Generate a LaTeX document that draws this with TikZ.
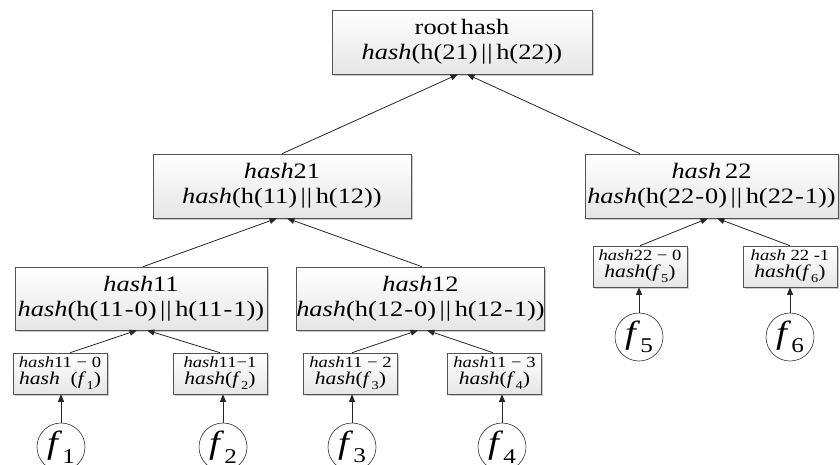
\documentclass[tikz,border=0pt]{standalone}
\usepackage{fontspec}
\setmainfont{Liberation Serif}[FakeStretch=1.2,
  UprightFont={Liberation Serif},
  ItalicFont={Liberation Serif Italic},
  BoldFont={Liberation Serif Bold}]
\usetikzlibrary{arrows.meta,shadows}
\newcommand{\hs}{\textit{hash}}
\newcommand{\dbar}{\,|\kern0.8pt|\,}
\newcommand{\hy}{\kern1pt-\kern1pt}
\newcommand{\fsub}[2]{\textit{f}\kern0.3pt\raisebox{-0.3em}{\fontsize{#1}{#1}\selectfont #2}}
\begin{document}
\begin{tikzpicture}[x=1pt,y=-1pt,
  box/.style={draw=gray!65!black, line width=0.6pt, top color=white, bottom color=gray!20,
    drop shadow={shadow xshift=1.5pt,shadow yshift=-1.5pt,fill=gray!40,opacity=1},
    inner sep=0pt, align=center},
  big/.style={box, minimum height=64pt, font=\fontsize{22}{25}\selectfont},
  leaf/.style={box, minimum width=94pt, minimum height=41pt, font=\fontsize{16}{16.5}\selectfont},
  fcirc/.style={circle, draw=gray!40!black, line width=0.6pt, fill=white, minimum size=48pt, inner sep=0pt,
    font=\fontsize{32}{32}\selectfont},
  arr/.style={draw=gray!30!black, line width=0.8pt, -{Triangle[length=7.5pt,width=6pt]}}]
\useasboundingbox (0,0) rectangle (840,464);
\clip (0,0) rectangle (840,464);

% big boxes
\node[big, minimum width=260pt] (root) at (462,42) {root\,hash\\\hs(h(21)\dbar h(22))};
\node[big, minimum width=258pt] (h21) at (282,186) {\hs21\\\hs(h(11)\dbar h(12))};
\node[big, minimum width=253pt] (h22) at (711.5,186) {\hs\,22\\\hs(h(22\hy0)\dbar h(22\hy1))};
\node[big, minimum width=252pt, minimum height=63pt] (h11) at (141,298.5) {\hs11\\\hs(h(11\hy0)\dbar h(11\hy1))};
\node[big, minimum width=245pt, minimum height=63pt] (h12) at (420.5,298.5) {\hs12\\\hs(h(12\hy0)\dbar h(12\hy1))};

% leaf boxes
\node[leaf] (l1) at (60,373.5) {{\fontsize{15.5}{14}\selectfont\hs11 − 0}\\{\fontsize{18}{18}\selectfont\hs\ \ (\fsub{12}{1})}};
\node[leaf] (l2) at (220,373.5) {{\fontsize{15.5}{14}\selectfont\hs11−1}\\{\fontsize{18}{18}\selectfont\hs(\fsub{12}{2})}};
\node[leaf] (l3) at (350.5,373.5) {{\fontsize{15.5}{14}\selectfont\hs11 − 2}\\{\fontsize{18}{18}\selectfont\hs(\fsub{12}{3})}};
\node[leaf] (l4) at (494.5,373.5) {{\fontsize{15.5}{14}\selectfont\hs11 − 3}\\{\fontsize{18}{18}\selectfont\hs(\fsub{12}{4})}};
\node[leaf] (l5) at (640,266.5) {{\fontsize{15.5}{14}\selectfont\hs22 − 0}\\{\fontsize{18}{18}\selectfont\hs(\fsub{12}{5})}};
\node[leaf] (l6) at (790,266.5) {{\fontsize{15.5}{14}\selectfont\hs\ 22 -1}\\{\fontsize{18}{18}\selectfont\hs(\fsub{12}{6})}};

% file circles
\node[fcirc] (c1) at (61,447) {\fsub{21}{1}};
\node[fcirc] (c2) at (223,447) {\fsub{21}{2}};
\node[fcirc] (c3) at (352,447) {\fsub{21}{3}};
\node[fcirc] (c4) at (502,447) {\fsub{21}{4}};
\node[fcirc] (c5) at (639,337) {\fsub{21}{5}};
\node[fcirc] (c6) at (790,337) {\fsub{21}{6}};

% connectors
\draw[arr] (h21.north) -- ([xshift=-4pt]root.south);
\draw[arr] ([xshift=-71.5pt]h22.north) -- ([xshift=5pt]root.south);
\draw[arr] ([xshift=2pt]h11.north) -- ([xshift=-5pt]h21.south);
\draw[arr] ([xshift=1.5pt]h12.north) -- ([xshift=5pt]h21.south);
\draw[arr] ([xshift=10pt]l1.north) -- ([xshift=-4pt]h11.south);
\draw[arr] (l2.north) -- ([xshift=6pt]h11.south);
\draw[arr] ([xshift=1.5pt]l3.north) -- ([xshift=-2.5pt]h12.south);
\draw[arr] ([xshift=-1.5pt]l4.north) -- ([xshift=6.5pt]h12.south);
\draw[arr] (l5.north) -- ([xshift=-3.5pt]h22.south);
\draw[arr] (l6.north) -- ([xshift=5.5pt]h22.south);
\draw[arr] (c1.north) -- (c1.north |- l1.south);
\draw[arr] (c2.north) -- (c2.north |- l2.south);
\draw[arr] (c3.north) -- (c3.north |- l3.south);
\draw[arr] (c4.north) -- (c4.north |- l4.south);
\draw[arr] (c5.north) -- (c5.north |- l5.south);
\draw[arr] (c6.north) -- (c6.north |- l6.south);
\end{tikzpicture}
\end{document}
